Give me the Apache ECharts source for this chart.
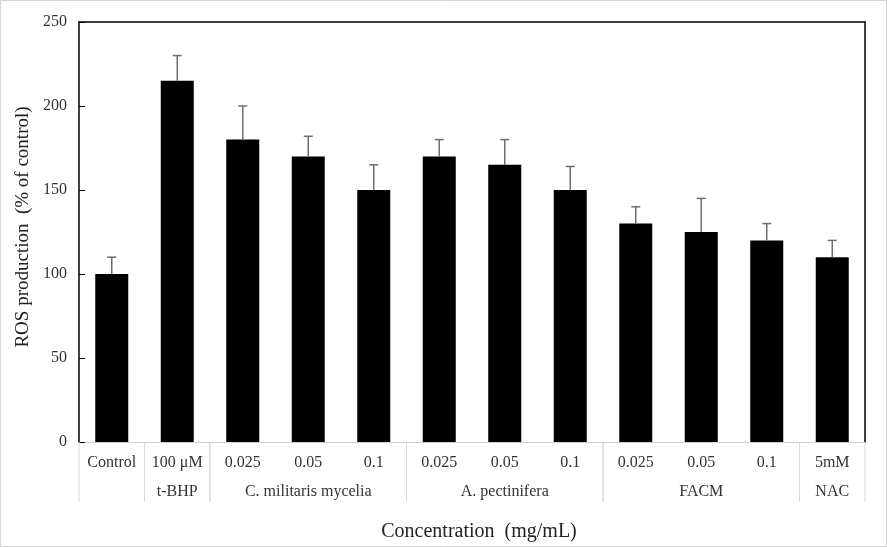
<!DOCTYPE html>
<html>
<head>
<meta charset="utf-8">
<script src="https://cdn.jsdelivr.net/npm/echarts@6/dist/echarts.min.js"></script>
<style>
html,body{margin:0;padding:0;background:#fff;}
#chart{width:887px;height:547px;}
</style>
</head>
<body>
<div id="chart"></div>
<script>
var categories = ['Control', '100 \u03bcM', '0.025', '0.05', '0.1', '0.025', '0.05', '0.1', '0.025', '0.05', '0.1', '5mM'];
var values = [100, 215, 180, 170, 150, 170, 165, 150, 130, 125, 120, 110];
var errorTops = [110, 230, 200, 182, 165, 180, 180, 164, 140, 145, 130, 120];
var groupNames = ['', 't-BHP', 'C. militaris mycelia', 'A. pectinifera', 'FACM', 'NAC'];
var groupStart = [0, 1, 2, 5, 8, 11];
var groupEnd = [0, 1, 4, 7, 10, 11];
var yTicks = [0, 50, 100, 150, 200, 250];

var FONT = '"Liberation Serif", "Times New Roman", serif';
var chart = echarts.init(document.getElementById('chart'), null, {renderer: 'canvas'});

var errData = values.map(function (v, i) { return [i, v, errorTops[i]]; });
var groupData = groupNames.map(function (n, i) { return [groupStart[i], groupEnd[i], n]; });

var option = {
  animation: false,
  backgroundColor: '#fff',
  grid: {left: 79, right: 22, top: 22, bottom: 105},
  graphic: [{
    type: 'rect', shape: {x: 0.5, y: 0.5, width: 886, height: 546},
    style: {fill: 'none', stroke: '#d4d4d4', lineWidth: 1}, silent: true, z: -1
  }],
  xAxis: [{
    type: 'category', data: categories, position: 'bottom',
    axisLine: {onZero: false, lineStyle: {color: '#d0d0d0', width: 1}},
    axisTick: {show: false},
    axisLabel: {fontFamily: FONT, fontSize: 16, color: '#333', margin: 13, interval: 0},
    name: 'Concentration  (mg/mL)', nameLocation: 'middle', nameGap: 80,
    nameTextStyle: {fontFamily: FONT, fontSize: 20, color: '#222', padding: [0, 0, 0, 14]}
  }, {
    type: 'category', data: categories, position: 'top',
    axisLine: {onZero: false, lineStyle: {color: '#000', width: 1.5}},
    axisTick: {show: false}, axisLabel: {show: false}
  }],
  yAxis: [{
    type: 'value', min: 0, max: 250, interval: 50,
    axisLine: {show: true, onZero: false, lineStyle: {color: '#000', width: 1.5}},
    axisTick: {show: true, inside: true, length: 6, lineStyle: {color: '#000'}},
    axisLabel: {fontFamily: FONT, fontSize: 16, color: '#333', margin: 12,
      formatter: function (v) { return yTicks.indexOf(v) >= 0 ? String(v) : ''; }},
    splitLine: {show: false},
    name: 'ROS production  (% of control)', nameLocation: 'middle', nameGap: 44,
    nameTextStyle: {fontFamily: FONT, fontSize: 19, color: '#222', padding: [0, 0, 0, 10]}
  }, {
    type: 'value', min: 0, max: 250, interval: 50, position: 'right',
    axisLine: {show: true, onZero: false, lineStyle: {color: '#000', width: 1.5}},
    axisTick: {show: false}, axisLabel: {show: false}, splitLine: {show: false}
  }],
  series: [{
    type: 'bar', data: values, barWidth: 33,
    itemStyle: {color: '#000'}, z: 2
  }, {
    type: 'custom', data: errData, z: 3,
    renderItem: function (params, api) {
      var i = api.value(0);
      var base = api.coord([i, api.value(1)]);
      var top = api.coord([i, api.value(2)]);
      var cw = 4.5;
      return {type: 'group', children: [
        {type: 'line', shape: {x1: base[0], y1: base[1], x2: top[0], y2: top[1]}, style: {stroke: '#6e6e6e', lineWidth: 1.5}},
        {type: 'line', shape: {x1: top[0] - cw, y1: top[1], x2: top[0] + cw, y2: top[1]}, style: {stroke: '#6e6e6e', lineWidth: 1.5}}
      ]};
    }
  }, {
    type: 'custom', data: groupData, clip: false, z: 1,
    renderItem: function (params, api) {
      var s = api.value(0), e = api.value(1);
      var bw = api.size([1, 0])[0];
      var p0 = api.coord([s, 0]);
      var p1 = api.coord([e, 0]);
      var left = p0[0] - bw / 2, right = p1[0] + bw / 2, y0 = p0[1];
      return {type: 'group', children: [
        {type: 'line', shape: {x1: left, y1: y0, x2: left, y2: y0 + 60}, style: {stroke: '#d8d8d8', lineWidth: 1}},
        {type: 'line', shape: {x1: right, y1: y0, x2: right, y2: y0 + 60}, style: {stroke: '#d8d8d8', lineWidth: 1}},
        {type: 'text', style: {text: groupNames[params.dataIndex], x: (left + right) / 2, y: y0 + 50,
          textAlign: 'center', textVerticalAlign: 'middle', font: '16px ' + FONT, fill: '#333'}}
      ]};
    }
  }]
};
chart.setOption(option);
</script>
</body>
</html>
